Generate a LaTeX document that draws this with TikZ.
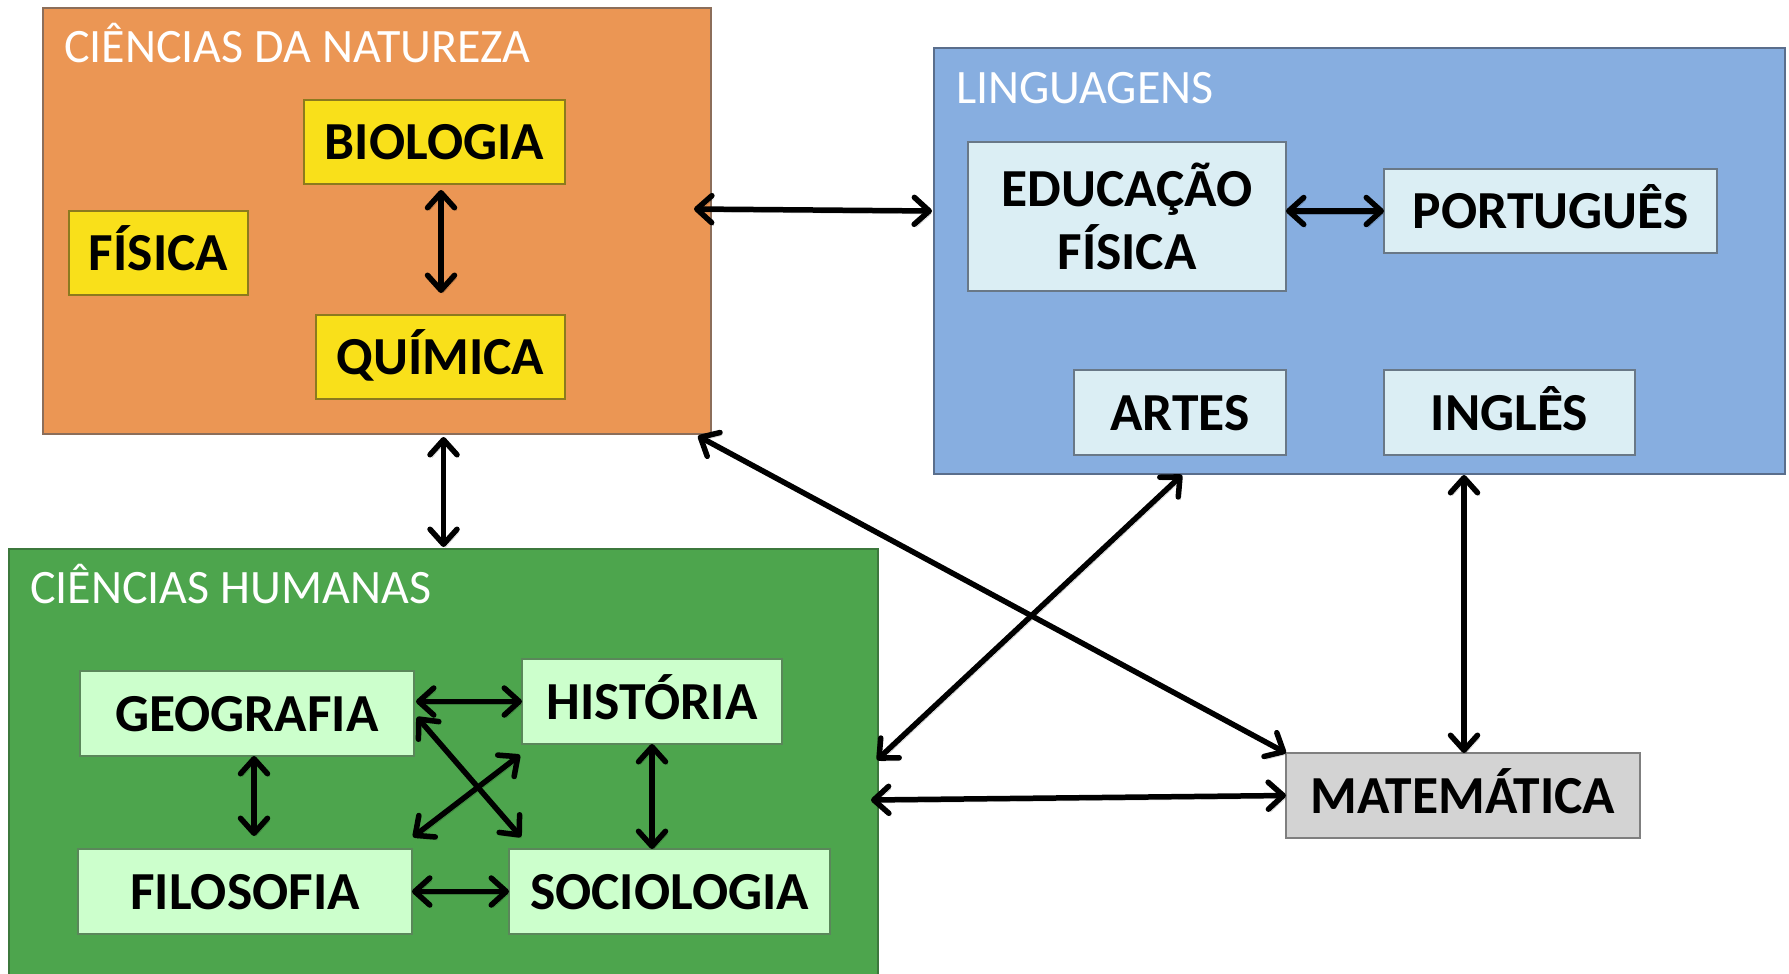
\documentclass[tikz,border=0pt]{standalone}
\usepackage{fontspec}
\setmainfont{Carlito}
\usetikzlibrary{arrows.meta,calc}
\definecolor{natfill}{RGB}{235,150,84}
\definecolor{natline}{RGB}{140,110,90}
\definecolor{lingfill}{RGB}{135,174,224}
\definecolor{lingline}{RGB}{90,110,140}
\definecolor{humfill}{RGB}{77,165,77}
\definecolor{humline}{RGB}{60,120,60}
\definecolor{yelfill}{RGB}{249,224,26}
\definecolor{yelline}{RGB}{140,122,30}
\definecolor{ltblue}{RGB}{219,238,244}
\definecolor{ltblueline}{RGB}{105,120,135}
\definecolor{ltgreen}{RGB}{204,255,204}
\definecolor{ltgreenline}{RGB}{90,135,90}
\definecolor{grayfill}{RGB}{211,211,211}
\definecolor{grayline}{RGB}{127,127,127}
\begin{document}
\begin{tikzpicture}[x=1pt,y=-1pt,
  area/.style={draw, line width=1.5pt, anchor=north west, inner sep=0pt, outer sep=0pt},
  subj/.style={draw, line width=1.5pt, anchor=north west, inner sep=0pt, outer sep=0pt,
    align=center, text=black, font=\bfseries\fontsize{53.5}{63}\selectfont},
  oneline/.style={text height=35pt, text depth=0pt},
  areatitle/.style={anchor=base west, inner sep=0pt, text=white, font=\fontsize{48}{56}\selectfont},
  link/.style={line width=5.5pt, {Straight Barb[length=15pt,width=27pt,round]}-{Straight Barb[length=15pt,width=27pt,round]},
    preaction={draw=black, draw opacity=0.22, transform canvas={shift={(2pt,-3pt)}}}}
]
\useasboundingbox (0,0) rectangle (1789,974);
\clip (0,0) rectangle (1789,974);
\fill[white] (0,0) rectangle (1789,974);

% areas
\node[area, fill=natfill, draw=natline, minimum width=668pt, minimum height=426pt] (nat) at (43,8) {};
\node[area, fill=lingfill, draw=lingline, minimum width=851pt, minimum height=426pt] (ling) at (934,48) {};
\node[area, fill=humfill, draw=humline, minimum width=869pt, minimum height=440pt] (hum) at (9,549) {};

\node[areatitle] (natt) at (64,63) {CIÊNCIAS DA NATUREZA};
\node[areatitle] (lingt) at (956,103) {LINGUAGENS};
\node[areatitle] (humt) at (30,603) {CIÊNCIAS HUMANAS};

% subjects
\node[subj, oneline, fill=yelfill, draw=yelline, minimum width=261pt, minimum height=84pt] (bio) at (304,100) {BIOLOGIA};
\node[subj, oneline, fill=yelfill, draw=yelline, minimum width=179pt, minimum height=84pt] (fis) at (69,211) {FÍSICA};
\node[subj, oneline, fill=yelfill, draw=yelline, minimum width=249pt, minimum height=84pt] (qui) at (316,315) {QUÍMICA};

\node[subj, fill=ltblue, draw=ltblueline, minimum width=318pt, minimum height=149pt] (edu) at (968,142) {EDUCAÇÃO\\FÍSICA};
\node[subj, oneline, fill=ltblue, draw=ltblueline, minimum width=333pt, minimum height=84pt] (por) at (1384,169) {PORTUGUÊS};
\node[subj, oneline, fill=ltblue, draw=ltblueline, minimum width=212pt, minimum height=85pt] (art) at (1074,370) {ARTES};
\node[subj, oneline, fill=ltblue, draw=ltblueline, minimum width=251pt, minimum height=85pt] (ing) at (1384,370) {INGLÊS};

\node[subj, oneline, fill=ltgreen, draw=ltgreenline, minimum width=334pt, minimum height=85pt] (geo) at (80,671) {GEOGRAFIA};
\node[subj, oneline, fill=ltgreen, draw=ltgreenline, minimum width=260pt, minimum height=85pt] (his) at (522,659) {HISTÓRIA};
\node[subj, oneline, fill=ltgreen, draw=ltgreenline, minimum width=334pt, minimum height=85pt] (fil) at (78,849) {FILOSOFIA};
\node[subj, oneline, fill=ltgreen, draw=ltgreenline, minimum width=321pt, minimum height=85pt] (soc) at (509,849) {SOCIOLOGIA};

\node[subj, oneline, fill=grayfill, draw=grayline, minimum width=354pt, minimum height=85pt] (mat) at (1286,753) {MATEMÁTICA};

% connectors
\draw[link] ($(bio.south)+(6.5,6)$) -- ($(qui.north)+(0.5,-22)$);
\draw[link] ($(nat.east)+(-17,-12)$) -- ($(ling.west)+(-2,-50)$);
\draw[link] (edu.east |- por.west) -- (por.west);
\draw[link] ($(nat.south -| hum.north)+(0,3)$) -- ($(hum.north)+(0,-2)$);
\draw[link] ($(nat.south east)+(-13,2)$) -- (mat.north west);
\draw[link] ($(art.south |- ling.south)+(2,1)$) -- ($(hum.east)+(-1,-9)$);
\draw[link] ($(ling.south -| mat.north)+(1,1)$) -- ($(mat.north)+(1,0)$);
\draw[link] ($(hum.east)+(-7,31)$) -- (mat.west);

\draw[link] ($(geo.east |- his.west)+(2,0)$) -- (his.west);
\draw[link] ($(geo.south)+(7,0)$) -- ($(fil.north)+(9,-13)$);
\draw[link] ($(geo.east)+(3,3.5)$) -- ($(soc.north west)+(12,-12)$);
\draw[link] ($(fil.north east)+(1,-12)$) -- ($(his.south west)+(-2,11)$);
\draw[link] (his.south) -- (his.south |- soc.north);
\draw[link] (fil.east) -- (soc.west);
\end{tikzpicture}
\end{document}
